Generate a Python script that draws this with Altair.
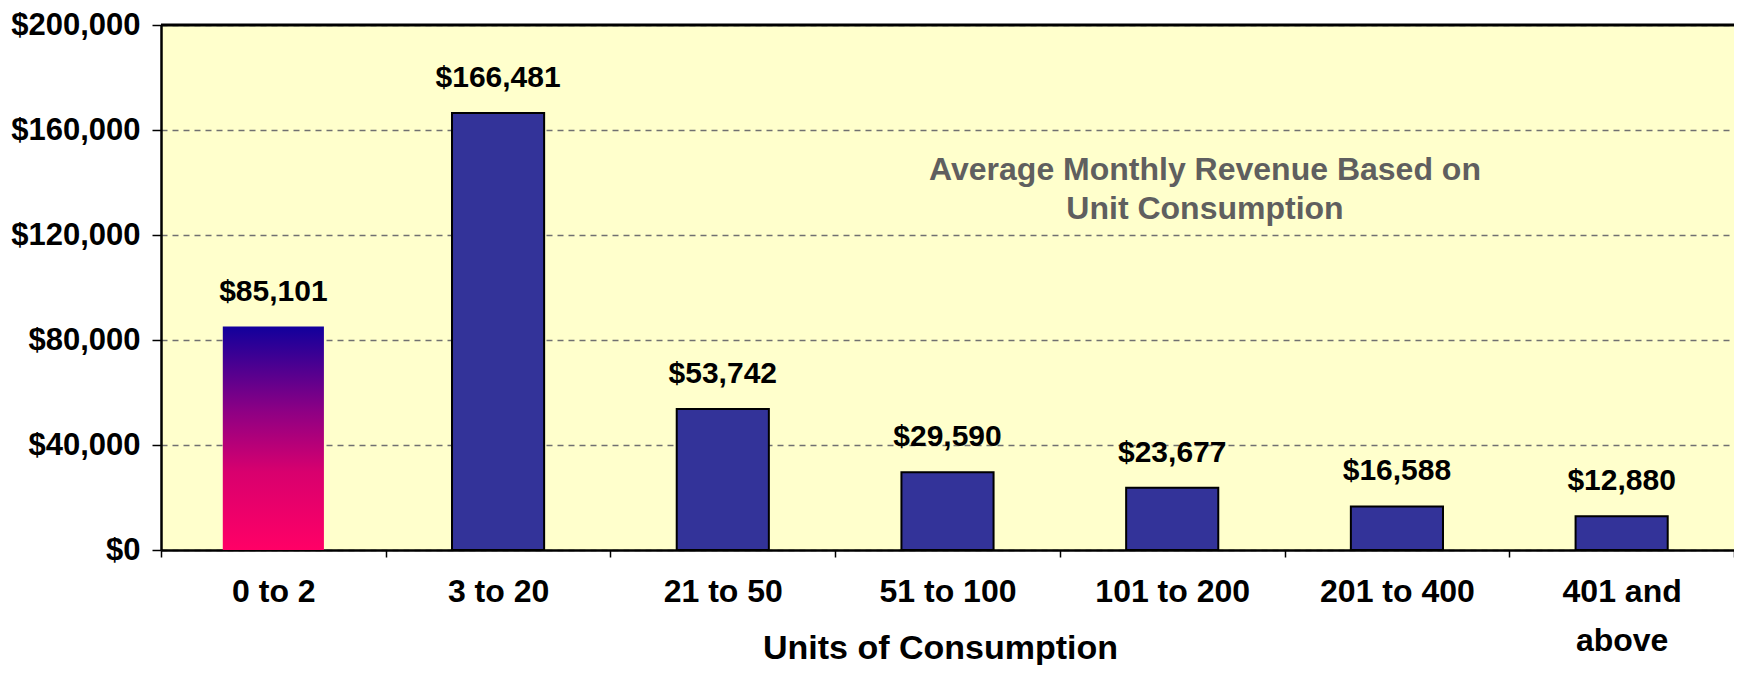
import altair as alt
import pandas as pd

categories = ["0 to 2", "3 to 20", "21 to 50", "51 to 100", "101 to 200", "201 to 400", "401 and above"]
revenue = [85101, 166481, 53742, 29590, 23677, 16588, 12880]
y_ticks = [0, 40000, 80000, 120000, 160000, 200000]
note_lines = ["Average Monthly Revenue Based on", "Unit Consumption"]

df = pd.DataFrame({"cat": categories, "rev": revenue})
df["label"] = ["$" + format(v, ",") for v in revenue]

FONT = "Liberation Sans"
W, H = 1573, 525

x_enc = alt.X(
    "cat:N",
    sort=categories,
    scale=alt.Scale(domain=categories, paddingInner=0, paddingOuter=0),
    axis=alt.Axis(
        title="Units of Consumption",
        titleFont=FONT, titleFontSize=34, titleFontWeight="bold", titleColor="black",
        titleY=98, titleX=779, titleAlign="center", titleBaseline="middle",
        labelFont=FONT, labelFontSize=32, labelFontWeight="bold", labelColor="black",
        labelAngle=0, labelPadding=19, labelLineHeight=49,
        labelExpr="datum.value == '401 and above' ? ['401 and', 'above'] : datum.value",
        tickBand="extent", tickSize=7, tickColor="black", tickWidth=1.5,
        domainColor="black", domainWidth=2.5, grid=False,
    ),
)
y_enc = alt.Y(
    "rev:Q",
    scale=alt.Scale(domain=[0, 200000], nice=False),
    axis=alt.Axis(
        title=None, values=y_ticks, format="$,.0f",
        labelFont=FONT, labelFontSize=31, labelFontWeight="bold", labelColor="black",
        labelPadding=12, tickSize=9, tickColor="black", tickWidth=1.5,
        domainColor="black", domainWidth=2.5,
        grid=True, gridColor="#707070", gridDash=[6, 5], gridWidth=1.5,
    ),
)

base = alt.Chart(df)

grad = alt.Gradient(
    gradient="linear",
    stops=[
        alt.GradientStop(color="#FF0066", offset=0),
        alt.GradientStop(color="#D8006E", offset=0.35),
        alt.GradientStop(color="#8E0084", offset=0.62),
        alt.GradientStop(color="#12009C", offset=1),
    ],
    x1=0, x2=0, y1=1, y2=0,
)

bar_first = base.transform_filter(alt.datum.cat == categories[0]).mark_bar(
    color=grad, width=alt.RelativeBandSize(0.45)
).encode(x=x_enc, y=y_enc)

bars_rest = base.transform_filter(alt.datum.cat != categories[0]).mark_bar(
    color="#333399", stroke="black", strokeWidth=2, width=alt.RelativeBandSize(0.41)
).encode(x=x_enc, y=y_enc)

labels = base.mark_text(
    font=FONT, fontSize=30, fontWeight="bold", color="black", dy=-35, baseline="middle"
).encode(x=x_enc, y=y_enc, text="label:N")

top_df = pd.DataFrame({"v": [y_ticks[-1]]})
top_rule = alt.Chart(top_df).mark_rule(color="black", strokeWidth=3).encode(
    y=alt.Y("v:Q", scale=alt.Scale(domain=[0, 200000], nice=False))
)

note_df = pd.DataFrame({"t": [note_lines], "v": [144800]})
note = alt.Chart(note_df).mark_text(
    font=FONT, fontSize=32, fontWeight="bold", color="#5F5F5F",
    align="center", baseline="middle", lineHeight=39,
).encode(
    x=alt.value(1044),
    y=alt.Y("v:Q", scale=alt.Scale(domain=[0, 200000], nice=False)),
    text="t",
)

chart = alt.layer(bar_first, bars_rest, labels, top_rule, note).properties(
    width=W, height=H,
    autosize=alt.AutoSizeParams(type="none"),
    padding={"left": 153, "top": 17, "right": 0, "bottom": 115},
).configure_view(fill="#FFFFCC", stroke=None)

chart.save("out.html", embed_options={"renderer": "svg", "actions": False})
